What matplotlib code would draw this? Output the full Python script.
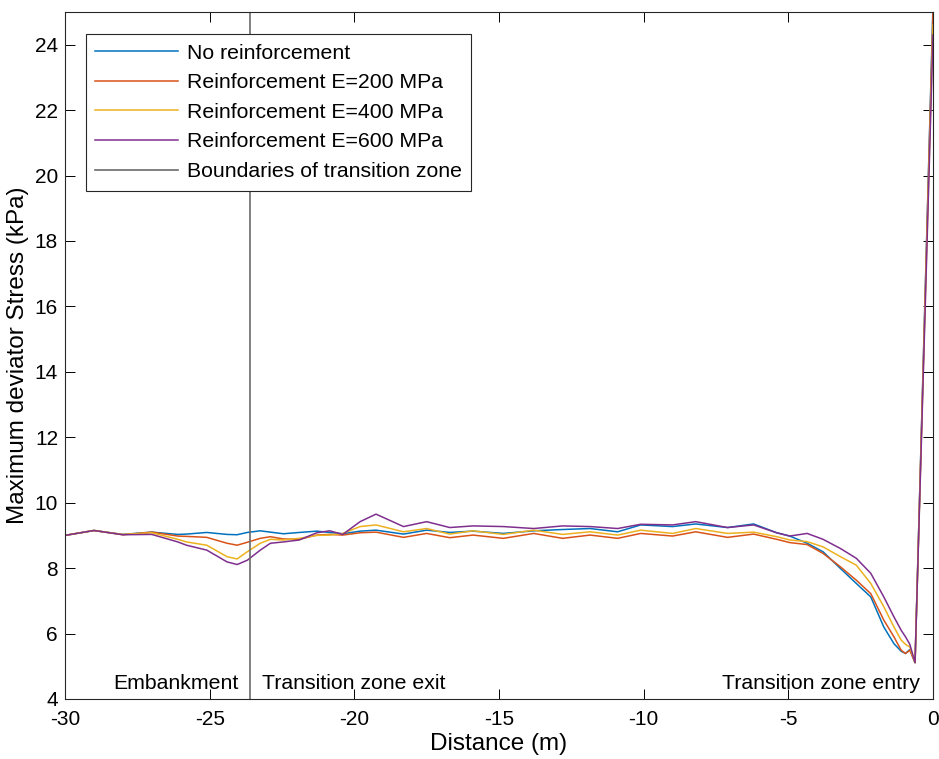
import numpy as np
import matplotlib
matplotlib.use('Agg')
import matplotlib.pyplot as plt

plt.rcParams['font.family'] = ['Liberation Sans', 'DejaVu Sans']
plt.rcParams['axes.unicode_minus'] = False

# distance along the track (m)
distance = [-30, -29, -28, -27, -26.1, -25.8, -25.1, -24.4, -24.05, -23.7,
            -23.25, -22.9, -22.45, -21.9, -21.3, -20.85, -20.4, -19.8, -19.25, -18.3,
            -17.5, -16.7, -15.9, -14.85, -13.8, -12.8, -11.85, -10.9, -10.1, -9.0,
            -8.2, -7.1, -6.2, -5.4, -4.95, -4.35, -3.8, -3.2, -2.65, -2.15,
            -1.7, -1.35, -1.1, -0.95, -0.8, -0.62, 0]

no_reinf = [9.0, 9.15, 9.03, 9.1, 9.03, 9.04, 9.09, 9.03, 9.02, 9.09,
            9.14, 9.1, 9.05, 9.09, 9.13, 9.09, 9.05, 9.13, 9.16, 9.04,
            9.16, 9.09, 9.13, 9.06, 9.14, 9.18, 9.21, 9.11, 9.32, 9.27,
            9.35, 9.24, 9.35, 9.08, 8.98, 8.76, 8.5, 7.99, 7.53, 7.12,
            6.2, 5.69, 5.46, 5.39, 5.51, 5.11, 25.2]
reinf_200 = [9.0, 9.15, 9.02, 9.1, 8.98, 8.97, 8.94, 8.76, 8.7, 8.79,
             8.91, 8.96, 8.89, 8.88, 9.01, 9.03, 9.01, 9.08, 9.1, 8.94,
             9.06, 8.93, 9.01, 8.91, 9.06, 8.91, 9.01, 8.91, 9.06, 8.98,
             9.11, 8.94, 9.04, 8.88, 8.78, 8.72, 8.45, 8.04, 7.63, 7.22,
             6.41, 5.9, 5.49, 5.39, 5.49, 5.11, 25.0]
reinf_400 = [9.0, 9.15, 9.03, 9.08, 8.88, 8.8, 8.7, 8.35, 8.28, 8.5,
             8.76, 8.88, 8.86, 8.91, 9.0, 9.01, 9.06, 9.27, 9.32, 9.11,
             9.21, 9.04, 9.14, 9.03, 9.16, 9.03, 9.11, 9.01, 9.16, 9.06,
             9.21, 9.06, 9.1, 8.96, 8.86, 8.81, 8.65, 8.35, 8.09, 7.53,
             6.82, 6.2, 5.8, 5.67, 5.59, 5.11, 24.6]
reinf_600 = [9.0, 9.15, 9.02, 9.03, 8.8, 8.7, 8.55, 8.19, 8.11, 8.24,
             8.55, 8.76, 8.8, 8.86, 9.08, 9.14, 9.03, 9.42, 9.65, 9.27,
             9.42, 9.24, 9.29, 9.27, 9.21, 9.29, 9.27, 9.21, 9.34, 9.32,
             9.42, 9.24, 9.32, 9.08, 8.98, 9.06, 8.88, 8.6, 8.3, 7.84,
             7.12, 6.51, 6.1, 5.9, 5.67, 5.11, 24.3]

boundary_x = -23.6

series = [
    ('No reinforcement', no_reinf, '#0072BD'),
    ('Reinforcement E=200 MPa', reinf_200, '#D95319'),
    ('Reinforcement E=400 MPa', reinf_400, '#EDB120'),
    ('Reinforcement E=600 MPa', reinf_600, '#7E2F8E'),
]

fig = plt.figure(figsize=(9.39, 7.59), dpi=100)
ax = fig.add_axes([0.0692, 0.0791, 0.9244, 0.9051])

for label, vals, col in series:
    ax.plot(distance, vals, color=col, lw=1.1, label=label)
ax.axvline(boundary_x, color='#6b6b6b', lw=1.2, label='Boundaries of transition zone')

ax.set_xlim(-30, 0)
ax.set_ylim(4, 25)
ax.set_xticks(np.arange(-30, 1, 5))
ax.set_yticks(np.arange(4, 25, 2))
ax.tick_params(direction='in', top=True, right=True, labelsize=15, length=7, width=0.7)
ax.tick_params(axis='x', pad=8)
ax.tick_params(axis='y', pad=5)
for sp in ax.spines.values():
    sp.set_linewidth(0.8)
    sp.set_color('#262626')

ax.set_xlabel('Distance (m)', fontsize=17.5, labelpad=3)
ax.set_ylabel('Maximum deviator Stress (kPa)', fontsize=17.5, labelpad=4)

ax.text(-24.0, 4.31, 'Embankment', fontsize=15.3, ha='right', va='baseline')
ax.text(-23.2, 4.31, 'Transition zone exit', fontsize=15.3, ha='left', va='baseline')
ax.text(-0.45, 4.31, 'Transition zone entry', fontsize=15.3, ha='right', va='baseline')

leg = ax.legend(loc='upper left', bbox_to_anchor=(0.024, 0.968), borderaxespad=0,
                fontsize=15.3, handlelength=3.9, fancybox=False, framealpha=1,
                edgecolor='#262626', labelspacing=0.5, borderpad=0.45,
                handletextpad=0.4)
leg.get_frame().set_linewidth(0.8)

fig.savefig('out.png', dpi=100)
